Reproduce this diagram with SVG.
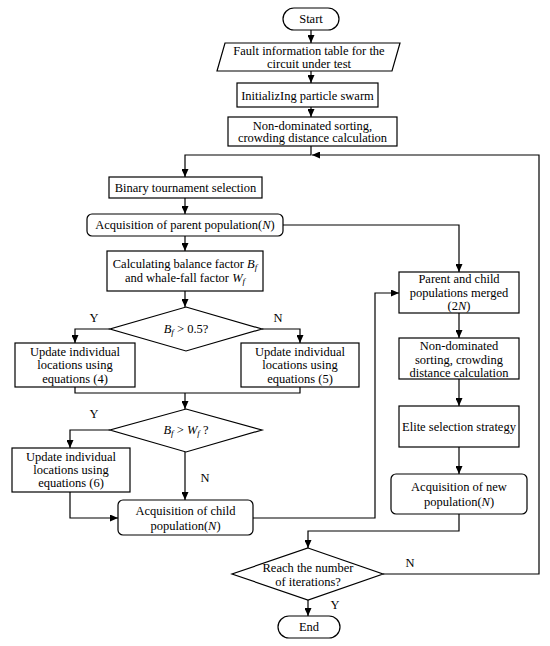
<svg xmlns="http://www.w3.org/2000/svg" width="550" height="646" viewBox="0 0 550 646">
<defs>
<marker id="ah" markerWidth="8" markerHeight="7" refX="8" refY="3.5" orient="auto" markerUnits="userSpaceOnUse">
<path d="M0,0 L8,3.5 L0,7 z" fill="#000"/>
</marker>
<style>
.s{fill:#fff;stroke:#000;stroke-width:1.2}
.t{font-family:"Liberation Serif","Times New Roman",serif;font-size:12.5px;fill:#000;text-anchor:middle;dominant-baseline:central}
.c{fill:none;stroke:#000;stroke-width:1.2}
.a{marker-end:url(#ah)}
.i{font-style:italic}
</style>
</defs>
<rect width="550" height="646" fill="#fff"/>
<g id="connectors">
<path class="c a" d="M311,30 V43"/>
<path class="c a" d="M311,71 V83"/>
<path class="c a" d="M311,107 V117"/>
<path class="c a" d="M311,146 V155 H185 V177"/>
<path class="c a" d="M383,574 H539 V155 H312"/>
<path class="c a" d="M185,198 V214"/>
<path class="c a" d="M185,236 V251"/>
<path class="c a" d="M283,225 H459 V272"/>
<path class="c a" d="M185,291 V307"/>
<path class="c a" d="M110,329 H75 V343"/>
<path class="c a" d="M262,329 H300 V343"/>
<path class="c" d="M75,387 V393 H300 V387"/>
<path class="c a" d="M185,393 V409"/>
<path class="c a" d="M110,430 H70 V448"/>
<path class="c a" d="M185,452 V500"/>
<path class="c a" d="M70,492 V518 H118"/>
<path class="c a" d="M253,518 H375 V293 H399"/>
<path class="c a" d="M459,313 V338"/>
<path class="c a" d="M459,379 V406"/>
<path class="c a" d="M459,447 V474"/>
<path class="c a" d="M459,514 V531 H308 V548"/>
<path class="c a" d="M308,600 V616"/>
<text class="t" x="94" y="318">Y</text>
<text class="t" x="278" y="318">N</text>
<text class="t" x="94" y="414">Y</text>
<text class="t" x="205" y="478">N</text>
<text class="t" x="410" y="563">N</text>
<text class="t" x="335" y="605">Y</text>
</g>
<g id="start">
<rect class="s" x="283" y="8" width="56" height="22" rx="11"/>
<text class="t" x="311" y="19">Start</text>
</g>
<g id="fault">
<path class="s" d="M225,43 H400 L392,71 H217 z"/>
<text class="t" x="309" y="51">Fault information table for the</text>
<text class="t" x="309" y="64">circuit under test</text>
</g>
<g id="init">
<rect class="s" x="237" y="83" width="141" height="24"/>
<text class="t" x="307.5" y="96">InitializIng particle swarm</text>
</g>
<g id="nondom1">
<rect class="s" x="228" y="117" width="169" height="29"/>
<text class="t" x="312.5" y="125.5">Non-dominated sorting,</text>
<text class="t" x="312.5" y="138">crowding distance calculation</text>
</g>
<g id="binary">
<rect class="s" x="109" y="177" width="153" height="21"/>
<text class="t" x="185.5" y="187.5">Binary tournament selection</text>
</g>
<g id="parent">
<rect class="s" x="87" y="214" width="196" height="22" rx="5"/>
<text class="t" x="185" y="225">Acquisition of parent population(<tspan class="i">N</tspan>)</text>
</g>
<g id="calc">
<rect class="s" x="107" y="251" width="156" height="40"/>
<text class="t" x="185" y="264">Calculating balance factor <tspan class="i">B</tspan><tspan class="i" font-size="9" dy="3">f</tspan></text>
<text class="t" x="185" y="278">and whale-fall factor <tspan class="i">W</tspan><tspan class="i" font-size="9" dy="3">f</tspan></text>
</g>
<g id="dec1">
<path class="s" d="M186,307 L262,329 L186,351 L110,329 z"/>
<text class="t" x="186" y="329"><tspan class="i">B</tspan><tspan class="i" font-size="9" dy="3">f</tspan><tspan dy="-3"> &gt; 0.5?</tspan></text>
</g>
<g id="upd4">
<rect class="s" x="15" y="343" width="120" height="44"/>
<text class="t" x="75" y="352">Update individual</text>
<text class="t" x="75" y="365">locations using</text>
<text class="t" x="75" y="379">equations (4)</text>
</g>
<g id="upd5">
<rect class="s" x="241" y="343" width="118" height="44"/>
<text class="t" x="300" y="352">Update individual</text>
<text class="t" x="300" y="365">locations using</text>
<text class="t" x="300" y="379">equations (5)</text>
</g>
<g id="dec2">
<path class="s" d="M186,409 L262,430 L186,452 L110,430 z"/>
<text class="t" x="186" y="430"><tspan class="i">B</tspan><tspan class="i" font-size="9" dy="3">f</tspan><tspan dy="-3"> &gt; </tspan><tspan class="i">W</tspan><tspan class="i" font-size="9" dy="3">f</tspan><tspan dy="-3"> ?</tspan></text>
</g>
<g id="upd6">
<rect class="s" x="12" y="448" width="118" height="44"/>
<text class="t" x="71" y="457">Update individual</text>
<text class="t" x="71" y="470">locations using</text>
<text class="t" x="71" y="483">equations (6)</text>
</g>
<g id="child">
<rect class="s" x="118" y="500" width="135" height="35" rx="5"/>
<text class="t" x="185.5" y="511">Acquisition of child</text>
<text class="t" x="185.5" y="526">population(<tspan class="i">N</tspan>)</text>
</g>
<g id="merged">
<rect class="s" x="399" y="272" width="120" height="41"/>
<text class="t" x="459" y="279">Parent and child</text>
<text class="t" x="459" y="293">populations merged</text>
<text class="t" x="459" y="306">(2<tspan class="i">N</tspan>)</text>
</g>
<g id="nondom2">
<rect class="s" x="399" y="338" width="120" height="41"/>
<text class="t" x="459" y="346">Non-dominated</text>
<text class="t" x="459" y="360">sorting, crowding</text>
<text class="t" x="459" y="373">distance calculation</text>
</g>
<g id="elite">
<rect class="s" x="399" y="406" width="120" height="41"/>
<text class="t" x="459" y="427">Elite selection strategy</text>
</g>
<g id="newpop">
<rect class="s" x="391" y="474" width="136" height="40" rx="5"/>
<text class="t" x="459" y="487">Acquisition of new</text>
<text class="t" x="459" y="502">population(<tspan class="i">N</tspan>)</text>
</g>
<g id="dec3">
<path class="s" d="M308,548 L383,574 L308,600 L232,574 z"/>
<text class="t" x="308" y="568">Reach the number</text>
<text class="t" x="308" y="582">of iterations?</text>
</g>
<g id="end">
<rect class="s" x="278" y="616" width="62" height="22" rx="11"/>
<text class="t" x="309" y="627">End</text>
</g>
</svg>
